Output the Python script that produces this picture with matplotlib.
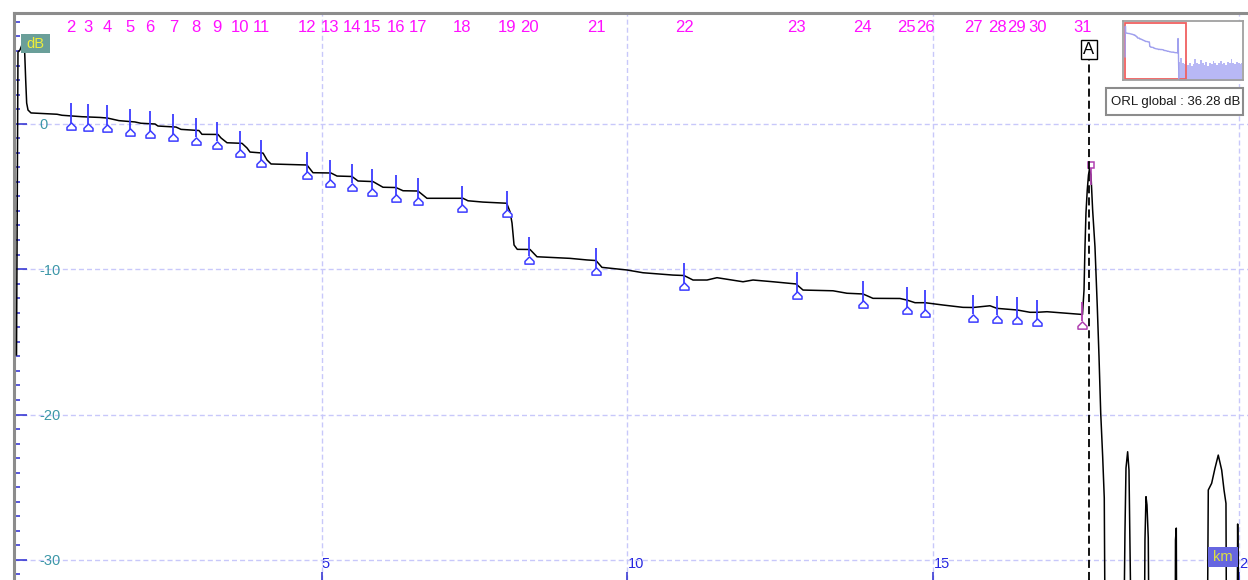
import numpy as np
import matplotlib
matplotlib.use('Agg')
import matplotlib.pyplot as plt
from matplotlib.patches import Rectangle
from matplotlib.path import Path
from matplotlib.transforms import blended_transform_factory
from matplotlib.ticker import MultipleLocator

plt.rcParams['font.family'] = ['Liberation Sans', 'DejaVu Sans']
plt.rcParams['lines.scale_dashes'] = False
plt.rcParams['axes.unicode_minus'] = False

# ---------------- data ----------------
trace_km = [0.015, 0.039, 0.072, 0.109, 0.149, 0.165, 0.181, 0.203, 0.252, 0.677, 0.758,
            1.085, 1.379, 1.499, 1.690, 1.951, 2.049, 2.278, 2.327, 2.621, 2.703, 2.997,
            3.046, 3.308, 3.357, 3.455, 3.700, 3.782, 3.831, 4.044, 4.110, 4.175, 4.762,
            4.860, 5.154, 5.253, 5.498, 5.596, 5.841, 6.004, 6.216, 6.331, 6.576, 6.723,
            7.312, 7.393, 7.638, 8.026, 8.080, 8.113, 8.146, 8.199, 8.407, 8.521, 9.060,
            9.338, 9.485, 9.583, 9.991, 10.254, 10.744, 10.924, 11.071, 11.300, 11.463,
            11.627, 11.888, 12.052, 12.379, 12.754, 12.869, 13.359, 13.587, 13.849, 14.012,
            14.453, 14.568, 14.699, 14.863, 15.157, 15.483, 15.646, 15.924, 16.039, 16.366,
            16.578, 16.693, 16.856, 17.183, 17.436, 17.461, 17.477, 17.493, 17.514, 17.534,
            17.550, 17.575, 17.602, 17.640, 17.678, 17.706, 17.734, 17.766, 17.792, 17.812,
            18.100, 18.130, 18.147, 18.174, 18.196, 18.212, 18.245, 18.441, 18.457, 18.474,
            18.490, 18.511, 18.531, 18.948, 18.956, 18.969, 18.980, 19.470, 19.492, 19.547,
            19.601, 19.655, 19.711, 19.749, 19.781, 19.793, 19.961, 19.972, 19.993, 20.200]
trace_db = [-15.9, 4.93, 5.07, 5.48, 4.86, 3.01, 1.42, 0.94, 0.74, 0.65, 0.58,
            0.48, 0.43, 0.39, 0.21, 0.12, 0.03, -0.02, -0.16, -0.23, -0.39, -0.47,
            -0.73, -0.74, -0.98, -1.31, -1.35, -1.67, -1.95, -2.02, -2.50, -2.77, -2.84,
            -3.37, -3.39, -3.60, -3.63, -3.94, -3.98, -4.37, -4.39, -4.61, -4.63, -5.13,
            -5.13, -5.30, -5.39, -5.47, -6.05, -6.83, -8.34, -8.64, -8.65, -9.15, -9.26,
            -9.37, -9.41, -9.88, -10.06, -10.25, -10.41, -10.44, -10.75, -10.75, -10.59,
            -10.70, -10.87, -10.75, -10.87, -11.02, -11.44, -11.49, -11.66, -11.71, -12.01,
            -12.02, -12.13, -12.31, -12.31, -12.47, -12.63, -12.64, -12.52, -12.70, -12.81,
            -12.97, -12.97, -12.93, -13.04, -13.12, -11.44, -8.46, -6.14, -4.56, -3.53,
            -3.12, -3.53, -5.94, -8.46, -12.59, -16.02, -19.90, -22.90, -25.74, -40.0,
            -40.0, -28.15, -23.68, -22.56, -23.82, -28.84, -40.0, -40.0, -28.63, -25.65,
            -26.22, -28.49, -40.0, -40.0, -28.63, -27.81, -40.0, -40.0, -25.19, -24.73,
            -23.70, -22.79, -23.82, -25.19, -26.11, -40.0, -40.0, -27.53, -40.0, -40.0]

event_ids = [2, 3, 4, 5, 6, 7, 8, 9, 10, 11, 12, 13, 14, 15, 16, 17, 18, 19, 20,
             21, 22, 23, 24, 25, 26, 27, 28, 29, 30, 31]
event_km = [0.910, 1.183, 1.499, 1.865, 2.196, 2.577, 2.943, 3.296, 3.662, 4.015,
            4.757, 5.138, 5.493, 5.829, 6.212, 6.571, 7.300, 8.026, 8.395, 9.485,
            10.928, 12.765, 13.844, 14.563, 14.867, 15.651, 16.043, 16.360, 16.697, 17.436]
end_event_id = 31
peak_km, peak_db = 17.57, -2.84
cursor_km = 17.542
cursor_label = 'A'

inset_noise_km = [17.9, 18.5, 19.1, 19.7, 20.3, 20.9, 21.5, 22.1, 22.7, 23.3, 23.9, 24.5,
                  25.1, 25.7, 26.3, 26.9, 27.5, 28.1, 28.7, 29.3, 29.9, 30.5, 31.1, 31.7,
                  32.3, 32.9, 33.5, 34.1, 34.7, 35.3, 35.9, 36.5, 37.1, 37.7, 38.3, 38.9]
inset_noise_db = [-19.5, -17.0, -20.5, -21.0, -19.0, -21.5, -20.0, -22.5, -21.0, -17.5,
                  -20.0, -21.0, -18.0, -20.5, -21.5, -19.5, -22.0, -20.0, -21.0, -19.0,
                  -20.5, -21.5, -20.0, -18.5, -21.0, -20.0, -21.5, -19.5, -20.5, -17.5,
                  -20.0, -21.0, -19.5, -20.5, -21.0, -20.0]

x_ticks = [5, 10, 15, 20]
y_ticks = [0, -10, -20, -30]
orl_text = 'ORL global : 36.28 dB'
y_unit = 'dB'
x_unit = 'km'

# ---------------- figure ----------------
W, H, DPI = 1248, 580, 100
fig = plt.figure(figsize=(W / DPI, H / DPI), dpi=DPI)
fig.patch.set_facecolor('white')


def fx(x):
    return x / W


def fy(y):
    return 1 - y / H


ax = fig.add_axes([fx(14), 0, (W - 14) / W, (H - 13) / H])
ax.set_xlim(-0.026, 20.141)
ax.set_ylim(-31.38, 7.613)

BLUE = '#3c3cff'
MAG = '#ff10ff'
MAG2 = '#b040b0'

# grid and ticks
ax.set_xticks(x_ticks)
ax.set_yticks(y_ticks)
ax.yaxis.set_minor_locator(MultipleLocator(1))
ax.grid(True, which='major', color='#c8c8fa', lw=1.0, linestyle=(0, (3.6, 2.2)))
ax.tick_params(axis='y', which='major', direction='in', length=9.4, width=1.1,
               color='#2b2bd0', labelcolor='#3d97a8', labelsize=10.5, pad=-18)
ax.tick_params(axis='y', which='minor', direction='in', length=4.3, width=1.1,
               color='#2b2bd0')
ax.tick_params(axis='x', which='major', direction='in', length=6, width=1.1,
               color='#2b2bd0', labelcolor='#2525e0', labelsize=10.5, pad=-16.8)
for lbl in ax.get_yticklabels():
    lbl.set_ha('left')
for lbl in ax.get_xticklabels():
    lbl.set_ha('left')
    lbl.set_clip_on(False)

for s in ['right', 'bottom']:
    ax.spines[s].set_visible(False)
for s in ['top', 'left']:
    ax.spines[s].set_color('#8c8c8c')
    ax.spines[s].set_linewidth(2.2)

# trace
ax.plot(trace_km, trace_db, color='black', lw=1.1, zorder=3)

# event markers
bell = Path([(0, 0.8), (1, -0.2), (1, -0.8), (-1, -0.8), (-1, -0.2), (0, 0.8)],
            [Path.MOVETO, Path.LINETO, Path.LINETO, Path.LINETO, Path.LINETO, Path.CLOSEPOLY])
ev_db = np.interp(event_km, trace_km, trace_db)
lab_tr = blended_transform_factory(ax.transData, ax.transAxes)
for eid, km, db in zip(event_ids, event_km, ev_db):
    col = MAG2 if eid == end_event_id else BLUE
    ax.vlines(km, db - 0.48, db + 0.87, color=col, lw=1.3, zorder=4)
    ax.plot(km, db - 0.70, marker=bell, ms=6.5, mfc='white', mec=col, mew=1.1,
            ls='none', zorder=5)
    ax.text(km, 0.975, str(eid), transform=lab_tr, ha='center', va='center',
            color=MAG, fontsize=12,
            family=['Liberation Sans Narrow', 'Liberation Sans', 'DejaVu Sans'])

# reflective peak marker
ax.vlines(peak_km, peak_db - 1.4, peak_db, color=MAG2, lw=1.2, zorder=4)
ax.plot(peak_km, peak_db, marker='s', ms=4.5, mfc='white', mec=MAG2, mew=1.1,
        ls='none', zorder=5)

# cursor A
ax.axvline(cursor_km, ymin=0, ymax=0.9206, color='black', lw=1.3,
           linestyle=(0, (5.8, 2.9)), zorder=6)
ax.text(cursor_km, 0.9365, cursor_label, transform=lab_tr, ha='center', va='center',
        fontsize=12, color='black', zorder=7,
        bbox=dict(boxstyle='square,pad=0.12', fc='white', ec='black', lw=1.0))

# unit boxes
fig.add_artist(Rectangle((fx(20.7), fy(53)), 29.3 / W, 19 / H, transform=fig.transFigure,
                         fc='#6a9f99', ec='none', zorder=10))
fig.text(fx(35.3), fy(43.5), y_unit, ha='center', va='center', color='#eeee3a',
         fontsize=10.5, zorder=11)
fig.add_artist(Rectangle((fx(1208.3), fy(566.7)), 30 / W, 20 / H, transform=fig.transFigure,
                         fc='#6666e0', ec='none', zorder=10))
fig.text(fx(1223.3), fy(556.7), x_unit, ha='center', va='center', color='#dde040',
         fontsize=10.5, zorder=11)

# ORL box
fig.add_artist(Rectangle((fx(1106), fy(115)), 137.3 / W, 26.7 / H, transform=fig.transFigure,
                         fc='white', ec='#8c8c8c', lw=1.5, zorder=10))
fig.text(fx(1110.7), fy(101.7), orl_text, ha='left', va='center', color='#1a1a1a',
         fontsize=9.5, zorder=11)

# overview inset
ax2 = fig.add_axes([fx(1122.7), fy(80), 120.6 / W, 59.3 / H])
ax2.set_xlim(-0.8, 39.2)
ax2.set_ylim(-32.1, 9.4)
ax2.set_xticks([])
ax2.set_yticks([])
for s in ax2.spines.values():
    s.set_color('#a0a0a0')
    s.set_linewidth(1.3)
tkm = np.array(trace_km)
tdb = np.array(trace_db)
m = tkm <= 17.82
ax2.plot(tkm[m], tdb[m], color='#a0a0ee', lw=1.0)
ax2.fill_between(inset_noise_km, inset_noise_db, -40, step='mid', color='#b8b8f5', lw=0)
x0, x1 = ax.get_xlim()
y0, y1 = ax.get_ylim()
ax2.add_patch(Rectangle((x0, y0), x1 - x0, y1 - y0, fill=False, ec='#f06060', lw=1.3))

fig.savefig('out.png', dpi=DPI)
